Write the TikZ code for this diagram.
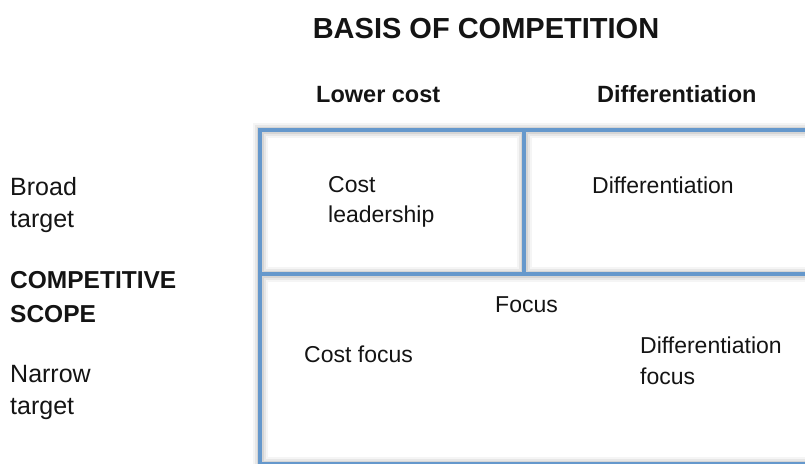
\documentclass[tikz,border=0pt]{standalone}
\usepackage{fontspec}
\setmainfont{Liberation Sans}
\definecolor{gridblue}{RGB}{101,152,204}
\definecolor{inktext}{RGB}{20,20,20}
\begin{document}
\begin{tikzpicture}[x=1pt,y=-1pt,
  gridline/.style={draw=gridblue,line width=4.5pt,line cap=square,line join=miter},
  title/.style={anchor=base,font=\bfseries\fontsize{29}{34}\selectfont,text=inktext,inner sep=0pt},
  colhead/.style={anchor=base west,font=\bfseries\fontsize{23.5}{28}\selectfont,text=inktext,inner sep=0pt},
  rowlabel/.style={anchor=base west,font=\fontsize{25}{30}\selectfont,text=inktext,inner sep=0pt},
  rowhead/.style={anchor=base west,font=\bfseries\fontsize{24.5}{29}\selectfont,text=inktext,inner sep=0pt},
  celltext/.style={anchor=base west,font=\fontsize{23}{28}\selectfont,text=inktext,inner sep=0pt}]
\useasboundingbox (0,0) rectangle (805,463);
\clip (0,0) rectangle (805,463);

% grid corner points
\coordinate (nw) at (260,130);
\coordinate (ne) at (812,130);
\coordinate (mt) at (524,130);
\coordinate (mm) at (524,274);
\coordinate (wm) at (260,274);
\coordinate (em) at (812,274);
\coordinate (ws) at (260,464);
\coordinate (es) at (812,464);

% soft drop shadow under the grid lines
\foreach \w/\o in {15/0.04,11/0.06,7/0.08,3.5/0.1}{
  \draw[draw=black,opacity=\o,line width=\w pt,shift={(3,6)}]
    (ne) -- (nw) -- (ws) -- (es)
    (wm) -- (em)
    (mt) -- (mm);
}

% grid lines
\draw[gridline] (ne) -- (nw) -- (ws) -- (es);
\draw[gridline] (wm) -- (em);
\draw[gridline] (mt) -- (mm);

% headings
\node[title] (basis) at (486,38) {BASIS OF COMPETITION};
\node[colhead] (lowcost) at (316,102) {Lower cost};
\node[colhead] (diffhead) at (597,102) {Differentiation};

% row labels
\node[rowlabel] (broad1) at (10,195) {Broad};
\node[rowlabel] (broad2) at (10,227) {target};
\node[rowhead] (scope1) at (10,288) {COMPETITIVE};
\node[rowhead] (scope2) at (10,322) {SCOPE};
\node[rowlabel] (narrow1) at (10,382) {Narrow};
\node[rowlabel] (narrow2) at (10,414) {target};

% cell texts
\node[celltext] (costlead1) at (328,192) {Cost};
\node[celltext] (costlead2) at (328,222) {leadership};
\node[celltext] (diffcell) at (592,193) {Differentiation};
\node[celltext] (focus) at (495,312) {Focus};
\node[celltext] (costfocus) at (304,362) {Cost focus};
\node[celltext] (difffocus1) at (640,353) {Differentiation};
\node[celltext] (difffocus2) at (640,384) {focus};
\end{tikzpicture}
\end{document}
